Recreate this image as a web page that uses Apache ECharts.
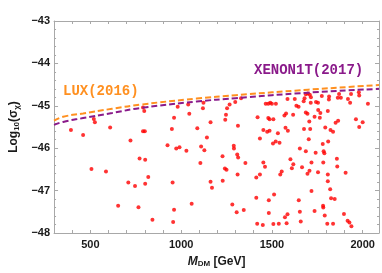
<!DOCTYPE html>
<html><head><meta charset="utf-8">
<script src="https://cdn.jsdelivr.net/npm/echarts@6/dist/echarts.min.js"></script>
<style>html,body{margin:0;padding:0;background:#fff}#c{width:382px;height:273px}</style>
</head><body><div id="c"></div>
<script>
// Exclusion curves
const luxMass = [300, 350, 460, 620, 780, 1085, 1300, 1700, 2090];
const luxSigma = [-45.35, -45.26, -45.18, -45.07, -44.97, -44.83, -44.75, -44.62, -44.51];
const xenonMass = [300, 350, 460, 620, 780, 1085, 1300, 1700, 2090];
const xenonSigma = [-45.45, -45.38, -45.29, -45.17, -45.05, -44.90, -44.82, -44.69, -44.60];

// Scan points: M_DM [GeV] and log10(sigma)
const scanMass = [393,460,519,525,609,721,771,506,586,709,746,653,765,
790,797,981,1039,1123,1120,1045,961,790,800,949,1089,1142,1162,925,973,991,1029,1110,1128,802,1106,819,802,953,1162,1170,1058,961,842,956,
1253,1247,1243,1267,1298,1330,1313,1421,1466,1480,1491,1500,1522,1586,1626,1635,1647,1480,1487,1508,1569,1578,1617,1453,1474,1487,1533,1575,1588,1434,1506,1521,1542,1654,1290,1291,1309,1314,1228,1354,1453,1462,1602,1618,1610,1666,1241,1250,1311,1414,1434,1554,1546,1229,1512,1414,1483,1648,1282,1345,1306,1483,1654,1586,1572,1659,1581,1419,1450,1508,1538,
1675,1714,1743,1754,1814,1919,1931,2029,1687,1696,1755,1808,1767,1735,1764,1706,1865,1851,1963,2000,1981,1794,1677,1711,1823,1837,1703,1810,1780,1687,1741,1785,1789,1858,1718,1783,1860,1707,1696,1754,1808,1906,1808,1821,1718,1826,1846,1782,1783,1735,1791,1897,1917,1927,1938,1805,1837,
1680,1687,1698,1709,1715,1775,1815,1863,1880,1870,1979,1981,1936];
const scanSigma = [-45.57,-45.69,-45.31,-45.39,-45.51,-45.82,-46.24,-46.49,-46.55,-46.81,-46.89,-47.36,-47.39,
-45.04,-45.12,-45.02,-44.97,-44.93,-45.06,-45.19,-45.28,-45.60,-45.60,-45.55,-45.53,-45.75,-45.39,-45.93,-46.01,-45.98,-46.06,-45.96,-46.05,-46.27,-46.35,-46.68,-46.84,-46.81,-46.79,-46.93,-47.31,-47.45,-47.69,-47.74,
-45.06,-45.21,-45.33,-44.97,-44.91,-44.82,-45.47,-45.27,-44.95,-44.95,-44.93,-44.95,-44.95,-44.84,-44.84,-45.00,-45.02,-45.29,-45.32,-45.32,-45.23,-45.18,-45.21,-45.57,-45.61,-45.59,-45.65,-45.52,-45.59,-45.77,-45.89,-45.84,-45.87,-46.01,-45.94,-46.01,-46.15,-46.22,-46.19,-46.35,-46.34,-46.44,-46.26,-46.38,-46.47,-46.45,-46.48,-46.51,-46.62,-46.69,-46.62,-46.55,-46.62,-46.77,-47.09,-47.17,-47.23,-47.23,-47.33,-47.46,-47.51,-47.53,-47.50,-47.56,-47.63,-47.73,-47.77,-47.78,-47.81,-47.79,-47.78,
-44.89,-44.93,-44.91,-44.93,-44.85,-44.84,-44.93,-44.95,-45.16,-45.19,-45.10,-45.12,-45.17,-45.26,-45.28,-45.37,-45.35,-45.40,-45.32,-45.39,-45.50,-45.51,-45.55,-45.55,-45.57,-45.61,-45.79,-45.84,-45.90,-46.07,-46.11,-46.07,-46.12,-46.25,-46.34,-46.34,-46.43,-46.53,-46.60,-46.57,-46.62,-46.58,-46.78,-46.97,-47.01,-47.18,-47.20,-47.36,-47.40,-47.48,-47.59,-47.55,-47.71,-47.75,-47.84,-47.78,-47.78,
-44.82,-44.73,-44.71,-44.74,-44.80,-44.77,-44.78,-44.81,-44.81,-44.72,-44.68,-44.76,-44.72];

const xMajorTicks = [500, 1000, 1500, 2000];
const yTickLabels = [-48, -47, -46, -45, -44, -43];

const frame = '#a8a8a8';
const tickFont = {color:'#1a1a1a', fontWeight:'bold', fontSize:11, fontFamily:'Liberation Sans'};

const chart = echarts.init(document.getElementById('c'), null, {renderer:'canvas'});
const baseX = {type:'value', min:300, max:2090, interval:100,
  axisLine:{show:true, onZero:false, lineStyle:{color:frame, width:1}},
  axisTick:{show:true, inside:true, length:3, lineStyle:{color:frame}},
  splitLine:{show:false}};
const baseY = {type:'value', min:-48, max:-43, interval:1,
  axisLine:{show:true, onZero:false, lineStyle:{color:frame, width:1}},
  axisTick:{show:true, inside:true, length:4, lineStyle:{color:frame}},
  minorTick:{show:true, splitNumber:5, length:2, lineStyle:{color:frame}},
  splitLine:{show:false}};

chart.setOption({
  animation:false,
  backgroundColor:'#fff',
  grid:{left:43, right:3, top:21, bottom:36, containLabel:false},
  xAxis:[
    Object.assign({}, baseX, {position:'bottom',
      axisLabel:Object.assign({}, tickFont, {margin:6, formatter:v => xMajorTicks.includes(v) ? String(v) : ''}),
      name:'{i|M}{s|DM} {n|[GeV]}', nameLocation:'middle', nameGap:22,
      nameTextStyle:{rich:{
        i:{fontStyle:'italic', fontWeight:'bold', fontSize:12, fontFamily:'Liberation Sans', color:'#1a1a1a'},
        s:{fontWeight:'bold', fontSize:8, fontFamily:'Liberation Sans', color:'#1a1a1a', padding:[5,0,0,0]},
        n:{fontWeight:'bold', fontSize:12, fontFamily:'Liberation Sans', color:'#1a1a1a'}}}}),
    Object.assign({}, baseX, {position:'top', axisLabel:{show:false}})
  ],
  yAxis:[
    Object.assign({}, baseY, {position:'left',
      axisLabel:Object.assign({}, tickFont, {margin:4, formatter:v => yTickLabels.includes(v) ? '\u2212' + Math.abs(v) : ''}),
      name:'{n|Log}{s|10}{n|(σ}{s|χ}{n|)}', nameLocation:'middle', nameGap:31,
      nameTextStyle:{rich:{
        s:{fontWeight:'bold', fontSize:8, fontFamily:'Liberation Sans', color:'#1a1a1a', padding:[5,0,0,0]},
        n:{fontWeight:'bold', fontSize:12, fontFamily:'Liberation Sans', color:'#1a1a1a'}}}}),
    Object.assign({}, baseY, {position:'right', axisLabel:{show:false}})
  ],
  series:[
    {type:'scatter', xAxisIndex:0, yAxisIndex:0, symbolSize:4,
     itemStyle:{color:'#ff0000'},
     data:scanMass.map((m,i)=>[m, scanSigma[i]])},
    {type:'line', xAxisIndex:0, yAxisIndex:0, smooth:true, showSymbol:false,
     lineStyle:{color:'#ff9020', width:2, type:[6,3]},
     data:luxMass.map((m,i)=>[m, luxSigma[i]])},
    {type:'line', xAxisIndex:0, yAxisIndex:0, smooth:true, showSymbol:false,
     lineStyle:{color:'#8a1a8a', width:2, type:[6,3]},
     data:xenonMass.map((m,i)=>[m, xenonSigma[i]])}
  ],
  graphic:[
    {type:'text', left:63, top:84, style:{text:'LUX(2016)', font:'bold 14px "Liberation Mono"', fill:'#ff9020'}},
    {type:'text', left:254, top:63, style:{text:'XENON1T(2017)', font:'bold 14px "Liberation Mono"', fill:'#8a1a8a'}}
  ]
});
</script></body></html>
